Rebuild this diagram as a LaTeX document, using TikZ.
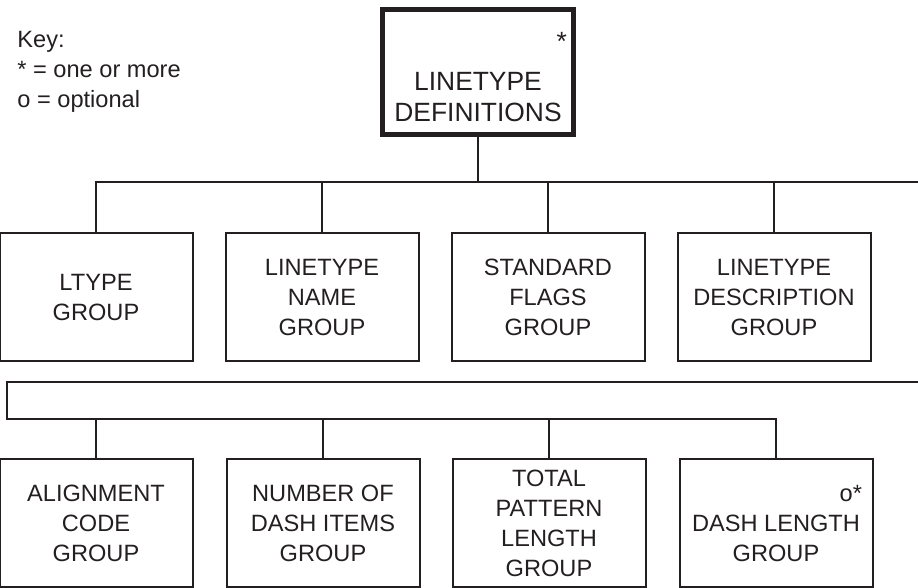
\documentclass[tikz,border=0pt]{standalone}
\usepackage{fontspec}
\setmainfont{Liberation Sans}
\usepackage{xcolor}
\definecolor{ink}{HTML}{231F20}
\tikzset{grpbox/.style={draw=ink, text=ink, line width=1pt, minimum width=96.5pt, minimum height=64pt, inner sep=0pt, align=center, font=\fontsize{11.8}{15}\selectfont}}
\tikzset{rootbox/.style={draw=ink, text=ink, line width=2.5pt, minimum width=95.5pt, minimum height=62.5pt, inner sep=0pt, align=center, font=\fontsize{13.2}{15.5}\selectfont}}
\tikzset{link/.style={draw=ink, line width=1pt}}

\begin{document}
\begin{tikzpicture}[x=0.5pt,y=-0.5pt]
  \useasboundingbox (0,0) rectangle (918,588);
  \node[anchor=north west, align=left, inner sep=0pt, text=ink, font=\fontsize{11.8}{15}\selectfont] (key) at (17,31) {Key:\\* = one or more\\o = optional};
  \node[rootbox] (root) at (478,72) {\rule{0pt}{14.5pt}\makebox[89pt][r]{*}\\[4.5pt]LINETYPE\\DEFINITIONS};
  \foreach \x/\y/\lab/\txt in {
    96/297/ltype/{LTYPE\\GROUP},
    322/297/ltname/{LINETYPE\\NAME\\GROUP},
    548/297/stdflags/{STANDARD\\FLAGS\\GROUP},
    774/297/ltdesc/{LINETYPE\\DESCRIPTION\\GROUP},
    96/523/align/{ALIGNMENT\\CODE\\GROUP},
    323/523/dashnum/{NUMBER OF\\DASH ITEMS\\GROUP},
    549/523/patlen/{TOTAL\\PATTERN\\LENGTH\\GROUP},
    776/523/dashlen/{\makebox[86pt][r]{o*}\\DASH LENGTH\\GROUP}%
  } {
    \node[grpbox] (\lab) at (\x, \y) {\txt};
  }
  \coordinate (busR) at (918,182);
  \coordinate (linkR) at (918,382);
  \coordinate (linkL) at (7,382);
  \coordinate (linkB) at (7,419);
  \draw[link] (root.south) -- (root.south |- busR);
  \draw[link] (ltype.north) |- (busR);
  \foreach \v in {ltname,stdflags,ltdesc}{
    \draw[link] (\v.north) -- (\v.north |- busR);
  }
  \draw[link] (linkR) -- (linkL) -- (linkB) -| (dashlen.north);
  \foreach \v in {align,dashnum,patlen}{
    \draw[link] (\v.north) -- (\v.north |- linkB);
  }
\end{tikzpicture}
\end{document}
